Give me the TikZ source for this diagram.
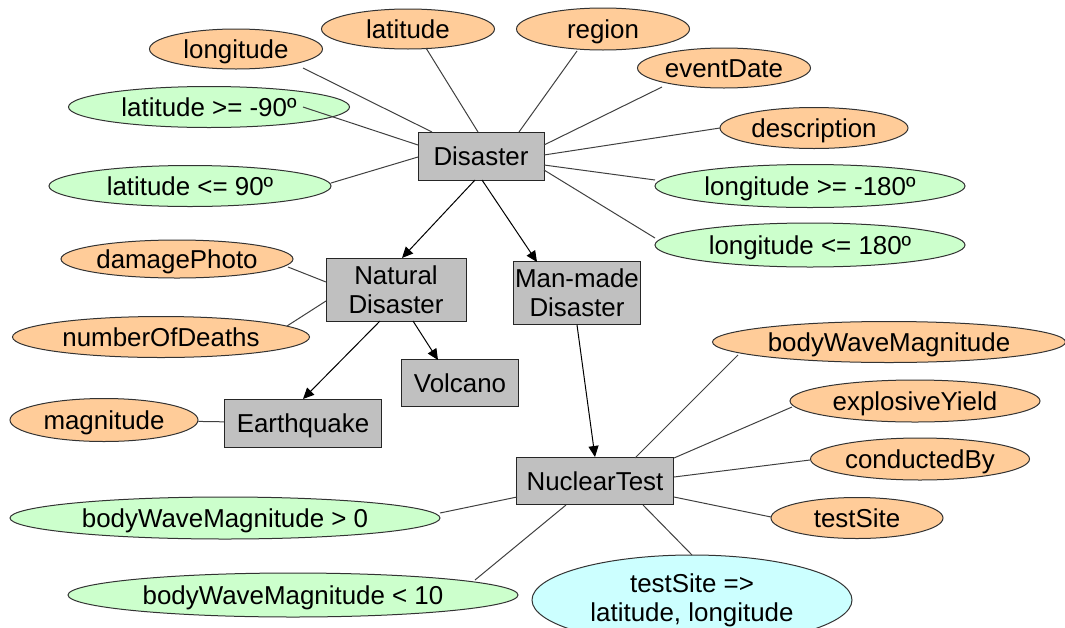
\documentclass[tikz,border=0pt]{standalone}
\usepackage{fontspec}
\setmainfont{Liberation Sans}
\usetikzlibrary{shapes.geometric,arrows.meta}

\definecolor{attrorange}{HTML}{FFCC99}
\definecolor{constrgreen}{HTML}{CCFFCC}
\definecolor{rulecyan}{HTML}{CCFFFF}
\definecolor{clsgray}{HTML}{C0C0C0}

\begin{document}
\begin{tikzpicture}[x=1pt,y=-1pt,
    every node/.style={font=\fontsize{25.9}{29}\selectfont},
    every text node part/.style={align=center},
    oneline/.style={text height=18pt, text depth=0pt},
    cls/.style={rectangle, draw=black!85, fill=clsgray, line width=1pt, inner sep=1pt},
    attr/.style={ellipse, oneline, draw=black!80, fill=attrorange, line width=1pt, inner sep=0pt},
    constr/.style={ellipse, oneline, draw=black!80, fill=constrgreen, line width=1pt, inner sep=0pt},
    rulenode/.style={ellipse, draw=black!80, fill=rulecyan, line width=1pt, inner sep=0pt},
    link/.style={draw=black!75, line width=1pt},
    isa/.style={draw=black, line width=1pt, -{Triangle[length=11pt,width=10pt]}}]

    \useasboundingbox (0,0) rectangle (1065,627);
    \clip (0,0) rectangle (1065,627);

    % classes
    \node[cls, oneline, minimum width=126pt, minimum height=48pt] (Disaster) at (481,156) {Disaster};
    \node[cls, minimum width=140pt, minimum height=63pt] (NatDis)   at (396,290) {Natural\\Disaster};
    \node[cls, minimum width=127pt, minimum height=63pt] (ManDis)   at (577,293) {Man-made\\Disaster};
    \node[cls, oneline, minimum width=117pt, minimum height=47pt] (Volcano)  at (460,383) {Volcano};
    \node[cls, oneline, minimum width=157pt, minimum height=48pt] (Earthq)   at (303,423) {Earthquake};
    \node[cls, oneline, minimum width=157pt, minimum height=47pt] (NucTest)  at (595,481) {NuclearTest};

    % attributes of Disaster
    \node[attr, minimum width=173pt, minimum height=40pt] (AttLong)   at (236,49)  {longitude};
    \node[attr, minimum width=173pt, minimum height=40pt] (AttLat)    at (408,29)  {latitude};
    \node[attr, minimum width=173pt, minimum height=42pt] (AttRegion) at (603,29)  {region};
    \node[attr, minimum width=173pt, minimum height=40pt] (AttDate)   at (724,68)  {eventDate};
    \node[attr, minimum width=188pt, minimum height=41pt] (AttDescr)  at (814,128) {description};

    \node[constr, minimum width=281pt, minimum height=41pt] (LatMin)  at (209,107) {latitude >= -90º};
    \node[constr, minimum width=282pt, minimum height=41pt] (LatMax)  at (190,186) {latitude <= 90º};
    \node[constr, minimum width=310pt, minimum height=43pt] (LongMin) at (810,186) {longitude >= -180º};
    \node[constr, minimum width=310pt, minimum height=44pt] (LongMax) at (810,245) {longitude <= 180º};

    % attributes of the subclasses
    \node[attr, minimum width=232pt, minimum height=38pt] (AttPhoto)  at (177,259) {damagePhoto};
    \node[attr, minimum width=297pt, minimum height=41pt] (AttDeaths) at (161,337) {numberOfDeaths};
    \node[attr, minimum width=188pt, minimum height=43pt] (AttMagn)   at (104,420) {magnitude};

    \node[attr, minimum width=353pt, minimum height=41pt] (AttBWM)    at (889,342) {bodyWaveMagnitude};
    \node[attr, minimum width=250pt, minimum height=42pt] (AttYield)  at (915,401) {explosiveYield};
    \node[attr, minimum width=219pt, minimum height=42pt] (AttBy)     at (920,459) {conductedBy};
    \node[attr, minimum width=172pt, minimum height=41pt] (AttSite)   at (857,518) {testSite};

    \node[constr, minimum width=430pt, minimum height=42pt] (BWMMin) at (225,518) {bodyWaveMagnitude > 0};
    \node[constr, minimum width=450pt, minimum height=44pt] (BWMMax) at (293,595) {bodyWaveMagnitude < 10};
    \node[rulenode, minimum width=320pt, minimum height=90pt] (SiteRule) at (692,600) {testSite =>\\latitude, longitude};

    % subclass arrows
    \draw[isa] ([shift={(-6,24)}]Disaster.center) -- ([shift={(6,-32)}]NatDis.center);
    \draw[isa] ([shift={(1,24)}]Disaster.center)  -- ([shift={(-40,-31)}]ManDis.center);
    \draw[isa] ([shift={(-16,31)}]NatDis.center)  -- ([shift={(0,-24)}]Earthq.center);
    \draw[isa] ([shift={(17,31)}]NatDis.center)   -- ([shift={(-22,-23)}]Volcano.center);
    \draw[isa] ([shift={(0,32)}]ManDis.center)    -- ([shift={(0,-24)}]NucTest.center);

    % links to attributes of Disaster
    \draw[link] ([shift={(-49,-24)}]Disaster.center) -- ([shift={(67,19)}]AttLong.center);
    \draw[link] ([shift={(-3,-24)}]Disaster.center)  -- ([shift={(18,19)}]AttLat.center);
    \draw[link] ([shift={(38,-24)}]Disaster.center)  -- ([shift={(-26,22)}]AttRegion.center);
    \draw[link] ([shift={(63,-11)}]Disaster.center)  -- ([shift={(-62,19)}]AttDate.center);
    \draw[link] ([shift={(63,-1)}]Disaster.center)   -- ([shift={(-94,0)}]AttDescr.center);
    \draw[link] ([shift={(-63,-11)}]Disaster.center) -- ([shift={(94,0)}]LatMin.center);
    \draw[link] ([shift={(-63,1)}]Disaster.center)   -- ([shift={(141,-3)}]LatMax.center);
    \draw[link] ([shift={(63,9)}]Disaster.center)    -- ([shift={(-155,-6)}]LongMin.center);
    \draw[link] ([shift={(63,14)}]Disaster.center)   -- ([shift={(-155,-7)}]LongMax.center);

    % links to attributes of the subclasses
    \draw[link] ([shift={(-70,-8)}]NatDis.center) -- ([shift={(111,8)}]AttPhoto.center);
    \draw[link] ([shift={(-70,11)}]NatDis.center) -- ([shift={(126,-11)}]AttDeaths.center);
    \draw[link] (Earthq) -- (AttMagn);

    \draw[link] ([shift={(40,-23)}]NucTest.center) -- ([shift={(-151,13)}]AttBWM.center);
    \draw[link] ([shift={(79,-23)}]NucTest.center) -- ([shift={(-123,6)}]AttYield.center);
    \draw[link] ([shift={(79,-4)}]NucTest.center)  -- ([shift={(-110,1)}]AttBy.center);
    \draw[link] ([shift={(79,16)}]NucTest.center)  -- ([shift={(-86,-1)}]AttSite.center);
    \draw[link] ([shift={(-78,16)}]NucTest.center) -- ([shift={(215,-5)}]BWMMin.center);
    \draw[link] ([shift={(-29,24)}]NucTest.center) -- ([shift={(182,-15)}]BWMMax.center);
    \draw[link] ([shift={(48,24)}]NucTest.center)  -- ([shift={(0,-45)}]SiteRule.center);
  \end{tikzpicture}
\end{document}
